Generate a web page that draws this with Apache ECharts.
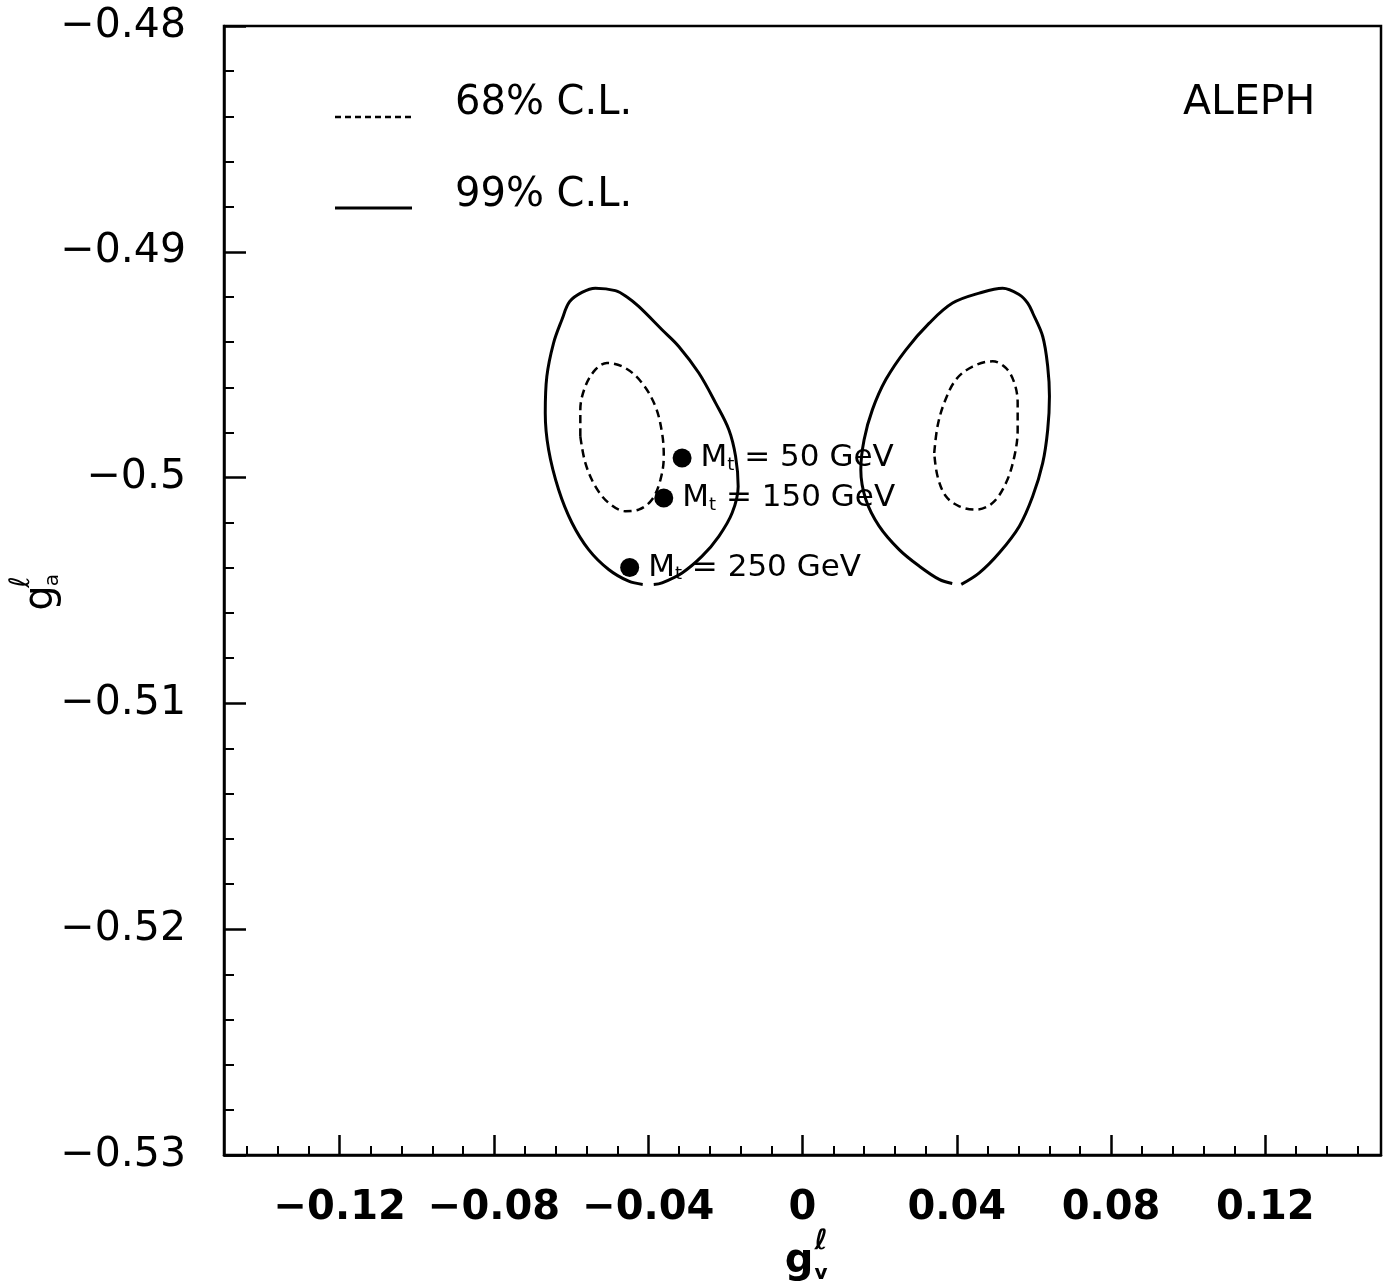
<!DOCTYPE html>
<html>
<head>
<meta charset="utf-8">
<script src="https://cdn.jsdelivr.net/npm/echarts@6/dist/echarts.min.js"></script>
<style>
  html, body { margin: 0; padding: 0; background: #fff; }
  #aleph-chart { width: 1387px; height: 1288px; }
</style>
</head>
<body>
<div id="aleph-chart"></div>
<script>
// tick values
const xMajorTicks = [-0.12, -0.08, -0.04, 0, 0.04, 0.08, 0.12]
const yRange = [-0.53, -0.48]

// 99% C.L. contours (solid), left and right solution (open at the bottom like the original)
const cl99Left = [
  [-0.03857, -0.50473], [-0.03642, -0.50466], [-0.03122, -0.50422], [-0.02603, -0.50348],
  [-0.02169, -0.5026], [-0.01823, -0.50156], [-0.01668, -0.50039], [-0.01735, -0.49906],
  [-0.01909, -0.49788], [-0.02255, -0.49669], [-0.02688, -0.49537], [-0.03208, -0.49419],
  [-0.03642, -0.49345], [-0.04247, -0.49242], [-0.04551, -0.492], [-0.04852, -0.49172],
  [-0.05371, -0.49161], [-0.05719, -0.4918], [-0.06039, -0.49221], [-0.06239, -0.49301],
  [-0.06455, -0.49404], [-0.06629, -0.49552], [-0.0667, -0.49714], [-0.06584, -0.49876],
  [-0.06325, -0.50053], [-0.05979, -0.502], [-0.05545, -0.50319], [-0.05026, -0.50407],
  [-0.04506, -0.50459], [-0.04143, -0.50473]
]
const cl99Right = [
  [0.04117, -0.50473], [0.04584, -0.50422], [0.05104, -0.50333], [0.05623, -0.50215],
  [0.05969, -0.50083], [0.06229, -0.49935], [0.06358, -0.49788], [0.06403, -0.4964],
  [0.06358, -0.49508], [0.06229, -0.49375], [0.05969, -0.49271], [0.05839, -0.49227],
  [0.05623, -0.4919], [0.0519, -0.49161], [0.04584, -0.49183], [0.03891, -0.49227],
  [0.03286, -0.49316], [0.02681, -0.49434], [0.02161, -0.49566], [0.01813, -0.49699],
  [0.01597, -0.49832], [0.01512, -0.49965], [0.01642, -0.50097], [0.01987, -0.50215],
  [0.02506, -0.50319], [0.03026, -0.50392], [0.03545, -0.50451], [0.03883, -0.50469]
]

// 68% C.L. contours (dashed, closed)
const cl68Left = [
  [-0.05761, -0.49817], [-0.05761, -0.49699], [-0.05631, -0.49596], [-0.05371, -0.49522],
  [-0.0507, -0.49492], [-0.04592, -0.49515], [-0.04161, -0.49581], [-0.03813, -0.49685],
  [-0.03642, -0.49802], [-0.03597, -0.49906], [-0.03683, -0.50009], [-0.03901, -0.50097],
  [-0.04247, -0.50142], [-0.04592, -0.50149], [-0.05026, -0.50112], [-0.05371, -0.50039],
  [-0.05631, -0.49935], [-0.05761, -0.49817]
]
const cl68Right = [
  [0.03416, -0.49891], [0.03501, -0.49773], [0.03675, -0.49669], [0.03979, -0.49566],
  [0.0441, -0.49508], [0.0493, -0.49485], [0.05278, -0.49515], [0.05494, -0.49581],
  [0.05579, -0.49669], [0.05579, -0.49788], [0.05494, -0.49906], [0.05278, -0.50023],
  [0.0493, -0.50112], [0.04499, -0.50142], [0.04065, -0.50127], [0.03719, -0.50083],
  [0.03501, -0.49994], [0.03416, -0.49891]
]

// Standard Model predictions for several top masses
const topMasses = [50, 150, 250]
const smGv = [-0.03122, -0.03597, -0.04481]
const smGa = [-0.49913, -0.5009, -0.50398]

const xMinorTicks = []
for (let i = -18; i <= 18; i++) {
  if (i % 5 !== 0) xMinorTicks.push(+(i * 0.008).toFixed(3))
}

const fmt = v => String(+(+v).toFixed(4)).replace('-', '\u2212')

const chart = echarts.init(document.getElementById('aleph-chart'))

const contour = (name, data, dashed) => ({
  name: name,
  type: 'line',
  data: data,
  smooth: 0.35,
  symbol: 'none',
  lineStyle: dashed
    ? { color: '#000', width: 2.5, type: [8, 5] }
    : { color: '#000', width: 3 }
})

const option = {
  backgroundColor: '#fff',
  animation: false,
  textStyle: { fontFamily: 'DejaVu Sans', color: '#000' },
  grid: {
    left: 224,
    right: 6,
    top: 26,
    bottom: 133,
    show: true,
    borderColor: '#000',
    borderWidth: 2.5
  },
  xAxis: [
    {
      type: 'value',
      min: -0.15,
      max: 0.15,
      position: 'bottom',
      axisLine: { onZero: false, lineStyle: { color: '#000', width: 2.5 } },
      axisTick: {
        inside: true,
        length: 20,
        customValues: xMajorTicks,
        lineStyle: { color: '#000', width: 2.5 }
      },
      axisLabel: {
        customValues: xMajorTicks,
        formatter: fmt,
        margin: 34,
        fontSize: 40,
        fontWeight: 'bold',
        color: '#000'
      },
      splitLine: { show: false }
    },
    {
      // minor ticks only
      type: 'value',
      min: -0.15,
      max: 0.15,
      position: 'bottom',
      axisLine: { show: false, onZero: false },
      axisTick: {
        inside: true,
        length: 9,
        customValues: xMinorTicks,
        lineStyle: { color: '#000', width: 2 }
      },
      axisLabel: { show: false },
      splitLine: { show: false }
    }
  ],
  yAxis: {
    type: 'value',
    min: yRange[0],
    max: yRange[1],
    interval: 0.01,
    axisLine: { show: true, onZero: false, lineStyle: { color: '#000', width: 2.5 } },
    axisTick: { inside: true, length: 22, lineStyle: { color: '#000', width: 2.5 } },
    minorTick: { show: true, splitNumber: 5, length: 10, lineStyle: { color: '#000', width: 2 } },
    axisLabel: {
      formatter: fmt,
      margin: 38,
      fontSize: 41,
      color: '#000'
    },
    splitLine: { show: false }
  },
  graphic: [
    // legend
    { type: 'line', shape: { x1: 335, y1: 117, x2: 412, y2: 117 },
      style: { stroke: '#000', lineWidth: 2.5, lineDash: [6, 4] } },
    { type: 'text', x: 455, y: 104,
      style: { text: '68% C.L.', font: '40px "DejaVu Sans"', fill: '#000', textVerticalAlign: 'middle' } },
    { type: 'line', shape: { x1: 335, y1: 208, x2: 412, y2: 208 },
      style: { stroke: '#000', lineWidth: 3 } },
    { type: 'text', x: 455, y: 196,
      style: { text: '99% C.L.', font: '40px "DejaVu Sans"', fill: '#000', textVerticalAlign: 'middle' } },
    { type: 'text', x: 1183, y: 103,
      style: { text: 'ALEPH', font: '41px "DejaVu Sans"', fill: '#000', textVerticalAlign: 'middle' } },
    // x axis title g_v^l
    { type: 'text', x: 799, y: 1262,
      style: { text: 'g', font: 'bold 40px "DejaVu Sans"', fill: '#000', textAlign: 'center', textVerticalAlign: 'middle' } },
    { type: 'text', x: 821, y: 1242,
      style: { text: '\u2113', font: 'bold 28px "DejaVu Sans"', fill: '#000', textAlign: 'center', textVerticalAlign: 'middle' } },
    { type: 'text', x: 821, y: 1274,
      style: { text: 'v', font: 'bold 20px "DejaVu Sans"', fill: '#000', textAlign: 'center', textVerticalAlign: 'middle' } },
    // y axis title g_a^l, rotated
    {
      type: 'group',
      x: 42,
      y: 598,
      rotation: Math.PI / 2,
      children: [
        { type: 'text', x: 0, y: 0,
          style: { text: 'g', font: '40px "DejaVu Sans"', fill: '#000', textAlign: 'center', textVerticalAlign: 'middle' } },
        { type: 'text', x: 16, y: -20,
          style: { text: '\u2113', font: '28px "DejaVu Sans"', fill: '#000', textAlign: 'center', textVerticalAlign: 'middle' } },
        { type: 'text', x: 18, y: 11,
          style: { text: 'a', font: '20px "DejaVu Sans"', fill: '#000', textAlign: 'center', textVerticalAlign: 'middle' } }
      ]
    }
  ],
  series: [
    contour('99% C.L.', cl99Left, false),
    contour('99% C.L. right', cl99Right, false),
    contour('68% C.L.', cl68Left, true),
    contour('68% C.L. right', cl68Right, true),
    {
      name: 'SM',
      type: 'scatter',
      data: topMasses.map((m, i) => [smGv[i], smGa[i], m]),
      symbol: 'circle',
      symbolSize: 19,
      itemStyle: { color: '#000', opacity: 1 },
      label: {
        show: true,
        position: 'right',
        distance: 9,
        color: '#000',
        formatter: p => '{m|M}{t|t}{m| = ' + p.value[2] + ' GeV}',
        rich: {
          m: { fontSize: 31, fontFamily: 'DejaVu Sans', color: '#000' },
          t: { fontSize: 18, fontFamily: 'DejaVu Sans', color: '#000', padding: [14, 0, 0, 0] }
        }
      }
    }
  ]
}

chart.setOption(option)
</script>
</body>
</html>
